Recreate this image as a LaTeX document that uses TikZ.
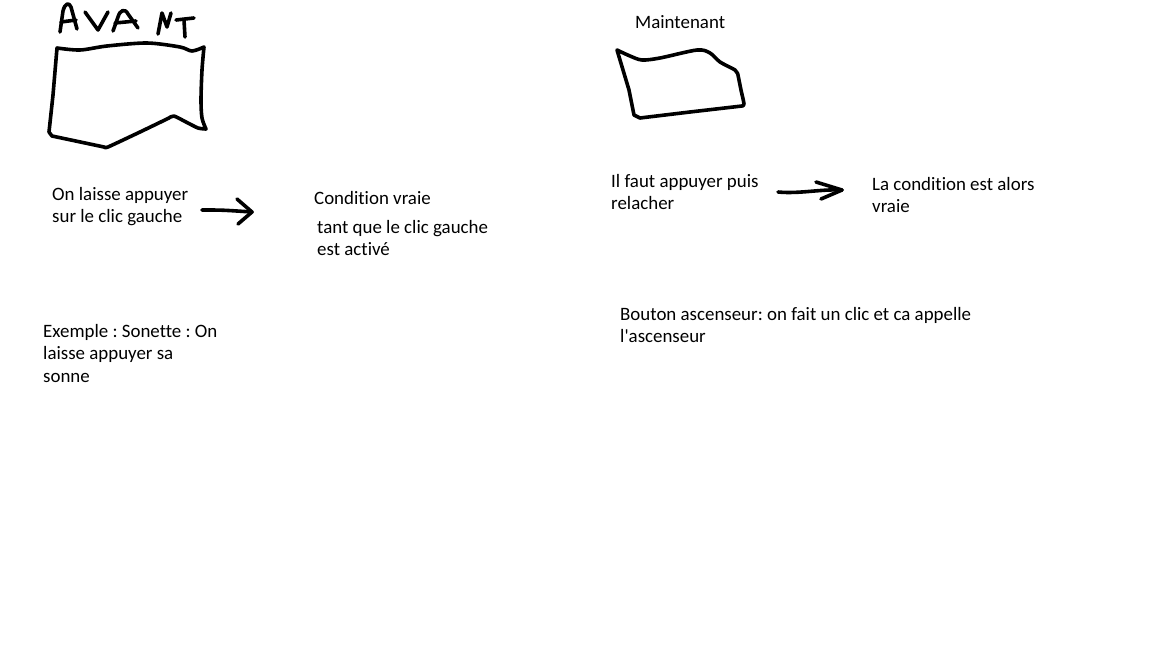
\documentclass[tikz,border=0pt]{standalone}
\usepackage{fontspec}
\setmainfont{Carlito}[Ligatures=NoCommon]
\frenchspacing
\begin{document}
\begin{tikzpicture}[x=1pt,y=-1pt,line cap=round,line join=round]
 \tikzstyle{txt} = [anchor=base west,inner sep=0,align=left,font=\fontsize{18.9}{22.7}\selectfont]
 \tikzstyle{pen} = [line width=3.6pt]
 \newcommand{\lsk}{22.7}
 \useasboundingbox (0,0) rectangle (1152,648);

  % Hand written title
  \draw[pen] (60,32) -- (63,11) .. controls (65,3) and (69,2) .. (71,7) -- (77,29);
  \draw[pen] (61,22) -- (76,20);
  \draw[pen] (85,12) -- (98,30) -- (108,12);
  \draw[pen] (113,31) -- (118,17) .. controls (120,10) and (125,8) .. (128,14) -- (138,28);
  \draw[pen] (115,23) -- (136,21);
  \draw[pen] (158,34) -- (162,13) -- (167,27) -- (171,13);
  \draw[pen] (176,20) -- (194,18);
  \draw[pen] (184,20) -- (185,37);

  % Box before
  \draw[pen] plot[smooth,tension=.5] coordinates {(57,48) (80,50) (107,46) (147,43) (180,47) (192,51) (204,47)}
    -- plot[smooth,tension=.5] coordinates {(204,47) (202,70) (201,100) (202,118) (206,129)}
    -- plot[smooth,tension=.4] coordinates {(206,129) (198,128) (186,122) (174,116) (169,118)}
    -- plot[smooth,tension=.3] coordinates {(169,118) (140,132) (108,147) (104,147)}
    -- (52,136) -- (49,132) -- (53,95) -- cycle;

  % Box now
  \draw[pen] plot[smooth,tension=.5] coordinates {(617,50) (630,56) (642,60) (660,58) (697,50) (710,53) (720,62) (735,70) (738,75)}
    -- plot[smooth,tension=.5] coordinates {(738,75) (741,90) (744,104) (742,106)}
    -- (690,112) -- (640,118) -- (634,115) -- (629,90) -- cycle;

  % Texts (base = last line)
  \node[txt] (now) at (635,28) {Maintenant};
  \node[txt] (press) at (52,200+\lsk) {On laisse appuyer\\sur le clic gauche};
  \node[txt] (cond) at (314,204) {Condition vraie};
  \node[txt] (while) at (317,233+\lsk) {tant que le clic gauche\\est activé};
  \node[txt] (release) at (611,187+\lsk) {Il faut appuyer puis\\relacher};
  \node[txt] (true) at (872,190+\lsk) {La condition est alors\\vraie};
  \node[txt] (bell) at (43,337+2*\lsk) {Exemple : Sonette : On\\laisse appuyer sa\\sonne};
  \node[txt] (lift) at (620,320+\lsk) {Bouton ascenseur: on fait un clic et ca appelle\\l\textquotesingle ascenseur};

  % Arrows
  \coordinate (a1s) at (202,210);
  \coordinate (a1e) at (252,212);
  \draw[pen] (a1s) .. controls (222,210) .. (a1e);
  \draw[pen] (237,199) -- (a1e) -- (238,224);
  \coordinate (a2s) at (778,192);
  \coordinate (a2e) at (842,190);
  \draw[pen] (a2s) .. controls (800,194) and (820,189) .. (a2e);
  \draw[pen] (816,182) -- (a2e) -- (821,199);

\end{tikzpicture}
\end{document}
